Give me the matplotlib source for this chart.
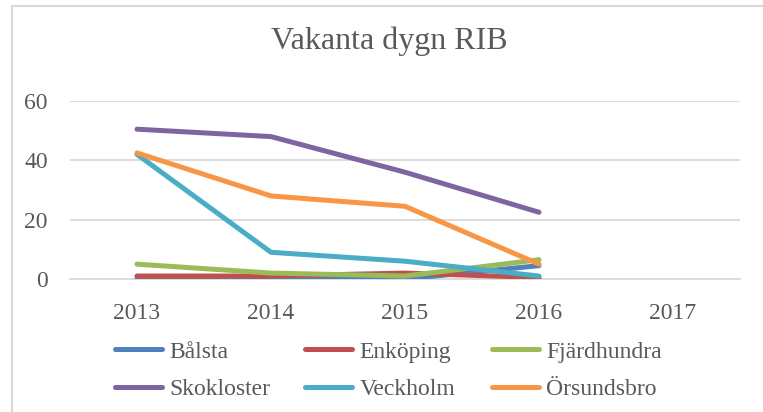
import numpy as np
import matplotlib
matplotlib.use('Agg')
import matplotlib.pyplot as plt
from matplotlib.lines import Line2D

'''Data read from the reference chart'''
years = ['2013', '2014', '2015', '2016', '2017']
names = ['Bålsta', 'Enköping', 'Fjärdhundra', 'Skokloster', 'Veckholm', 'Örsundsbro']
balsta = [0, 0, 0, 4.5, np.nan]
enkoping = [1, 1, 2, 0.5, np.nan]
fjardhundra = [5, 2, 1, 6.5, np.nan]
skokloster = [50.5, 48, 36, 22.5, np.nan]
veckholm = [42, 9, 6, 1, np.nan]
orsundsbro = [42.5, 28, 24.5, 5, np.nan]
colors = ['#4F81BD', '#C0504D', '#9BBB59', '#8064A2', '#4BACC6', '#F79646']

plt.rcParams['font.family'] = ['Liberation Serif', 'DejaVu Serif']
txt = '#595959'
W, H = 763, 412

fig = plt.figure(figsize=(W / 100, H / 100), dpi=100)
ax = fig.add_axes([70 / W, 1 - 279 / H, 670 / W, 178 / H])

x = np.arange(len(years))
series = [balsta, enkoping, fjardhundra, skokloster, veckholm, orsundsbro]
for vals, c, n in zip(series, colors, names):
    ax.plot(x, vals, color=c, lw=3.6, solid_capstyle='round', solid_joinstyle='round', label=n, zorder=3)

ax.set_xlim(-0.5, len(years) - 0.5)
ax.set_ylim(0, 60)
ax.set_yticks([0, 20, 40, 60])
ax.set_xticks(x)
ax.set_xticklabels(years)
ax.grid(axis='y', color='#D9D9D9', lw=1.3)
ax.set_axisbelow(True)
for s in ['top', 'right', 'left']:
    ax.spines[s].set_visible(False)
ax.spines['bottom'].set_color('#D9D9D9')
ax.spines['bottom'].set_linewidth(1.3)
ax.tick_params(length=0, labelsize=17, colors=txt)
ax.tick_params(axis='x', pad=17)
ax.tick_params(axis='y', pad=16)

fig.text(389 / W, 1 - 41 / H, 'Vakanta dygn RIB', ha='center', va='center', fontsize=23, color=txt)

# chart border (left and top edges visible)
fig.add_artist(Line2D([12 / W, 12 / W], [0, 1 - 6 / H], color='#D9D9D9', lw=1.5))
fig.add_artist(Line2D([12 / W, 1], [1 - 6 / H, 1 - 6 / H], color='#D9D9D9', lw=1.5))

# legend: three columns placed like the reference
handles = ax.get_lines()
col_x = [115, 305, 492]
for c in range(3):
    hs = handles[c::3]
    fig.legend(hs, [h.get_label() for h in hs], loc='upper left',
               bbox_to_anchor=(col_x[c] / W, 1 - 341 / H), frameon=False,
               fontsize=17, labelcolor=txt, handlelength=2.0, handletextpad=0.3,
               borderpad=0, borderaxespad=0, labelspacing=0.68)

fig.savefig('out.png', dpi=100)
